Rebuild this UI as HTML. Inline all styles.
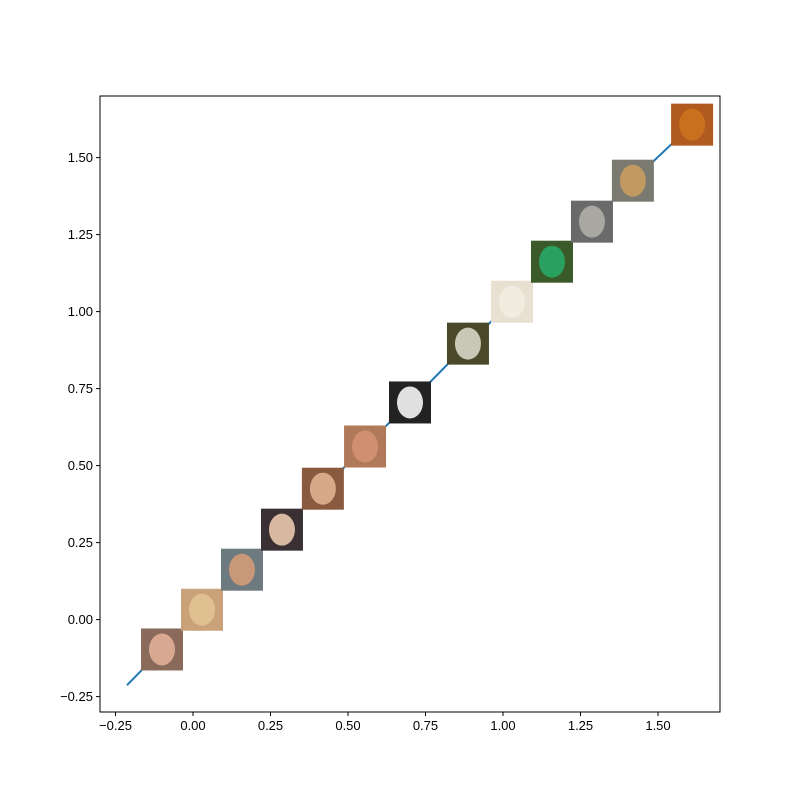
<!DOCTYPE html>
<html><head><meta charset="utf-8"><style>
body{margin:0;background:#fff;}
svg text{font-family:"Liberation Sans",sans-serif;font-size:13px;fill:#000;}
</style></head><body>
<svg id="chart" width="800" height="800"></svg>
<script>
const pointX=[-0.100,0.029,0.158,0.287,0.419,0.555,0.700,0.887,1.029,1.158,1.287,1.419,1.610];
const pointY=[-0.097,0.032,0.162,0.292,0.425,0.562,0.705,0.896,1.032,1.162,1.292,1.425,1.607];
const lineX=[-0.213,-0.100,0.029,0.158,0.287,0.419,0.555,0.700,0.887,1.029,1.158,1.287,1.419,1.610];
const lineY=[-0.213,-0.097,0.032,0.162,0.292,0.425,0.562,0.705,0.896,1.032,1.162,1.292,1.425,1.607];
const xTicks=[-0.25,0,0.25,0.5,0.75,1.0,1.25,1.5];
const yTicks=[-0.25,0,0.25,0.5,0.75,1.0,1.25,1.5];
const xTickLabels=["−0.25","0.00","0.25","0.50","0.75","1.00","1.25","1.50"];
const yTickLabels=["−0.25","0.00","0.25","0.50","0.75","1.00","1.25","1.50"];
const thumbBg=["#8a6a5a","#c9a27a","#6d7a80","#3a3034","#8a5a40","#b07a5a","#222222","#4a4a2a","#e8e0d0","#3a5a2a","#6a6a6a","#7a7a70","#b05a20"];
const thumbFace=["#d8a890","#e0c090","#c89878","#d8b8a0","#d8a888","#d09070","#e0e0e0","#c8c8b8","#f0ece0","#2aa060","#a8a8a0","#c09a60","#c8701e"];

const X0=-0.3,X1=1.7,Y0=-0.3,Y1=1.7,L=100,R=720,T=96,B=712;
const sx=v=>L+(v-X0)/(X1-X0)*(R-L);
const sy=v=>B-(v-Y0)/(Y1-Y0)*(B-T);
const svg=document.getElementById('chart');
const NS='http://www.w3.org/2000/svg';
function mk(tag,attrs,parent){const e=document.createElementNS(NS,tag);for(const k in attrs)e.setAttribute(k,attrs[k]);(parent||svg).appendChild(e);return e;}

let d=lineX.map((v,i)=>(i?'L':'M')+sx(v)+','+sy(lineY[i])).join(' ');
const line=mk('path',{d:d,stroke:'#1f77b4','stroke-width':2,fill:'none'});



pointX.forEach((v,i)=>{
  const g=mk('g',{});
  
  
  const cx=sx(v),cy=sy(pointY[i]);
  mk('rect',{x:cx-21,y:cy-21,width:42,height:42,fill:thumbBg[i]},g);
  mk('ellipse',{cx:cx,cy:cy,rx:13,ry:16,fill:thumbFace[i]},g);
});

const frame=mk('rect',{x:L,y:T,width:R-L,height:B-T,fill:'none',stroke:'#000','stroke-width':1});



xTicks.forEach((v,i)=>{
  const x=sx(v);
  const t=mk('line',{x1:x,x2:x,y1:B,y2:B+4,stroke:'#000'});
  
  
  const l=mk('text',{x:x,y:B+18,'text-anchor':'middle'});
  l.textContent=xTickLabels[i];
  
  
});
yTicks.forEach((v,i)=>{
  const y=sy(v);
  const t=mk('line',{x1:L-4,x2:L,y1:y,y2:y,stroke:'#000'});
  
  
  const l=mk('text',{x:L-7,y:y+4.5,'text-anchor':'end'});
  l.textContent=yTickLabels[i];
  
  
});
</script>
</body></html>
